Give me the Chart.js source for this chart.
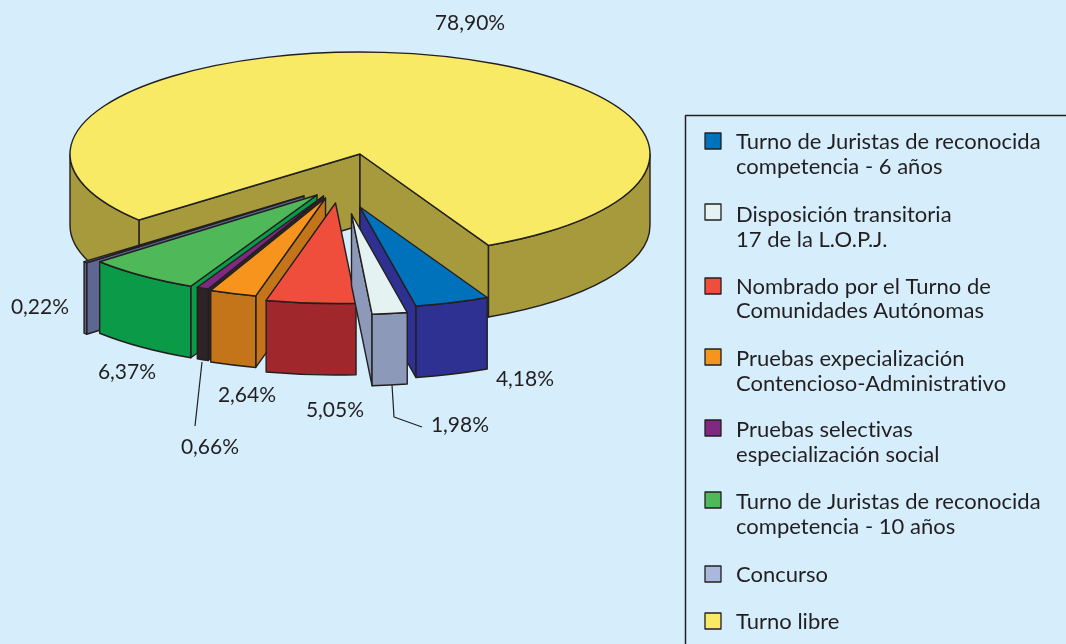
<!DOCTYPE html>
<html>
<head>
<meta charset="utf-8">
<title>Turno de acceso</title>
<script src="https://cdn.jsdelivr.net/npm/chart.js@4"></script>
<style>
  html, body { margin: 0; padding: 0; background: #d6eefc; overflow: hidden; }
  canvas { display: block; }
</style>
</head>
<body>
<canvas id="pie" width="1066" height="644"></canvas>
<script>
const categories = [
  ['Turno de Juristas de reconocida', 'competencia - 6 años'],
  ['Disposición transitoria', '17 de la L.O.P.J.'],
  ['Nombrado por el Turno de', 'Comunidades Autónomas'],
  ['Pruebas expecialización', 'Contencioso-Administrativo'],
  ['Pruebas selectivas', 'especialización social'],
  ['Turno de Juristas de reconocida', 'competencia - 10 años'],
  ['Concurso'],
  ['Turno libre']
];
const values = [4.18, 1.98, 5.05, 2.64, 0.66, 6.37, 0.22, 78.90];
const valueLabels = ['4,18%', '1,98%', '5,05%', '2,64%', '0,66%', '6,37%', '0,22%', '78,90%'];

// colours
const topColors = ['#0072bc', '#e4f2f2', '#f04e3c', '#f7941d', '#7f2a80', '#4fb858', '#6f78ac', '#f8ea64'];
const sideColors = ['#2e3192', '#8d99b8', '#a0282d', '#c4751a', '#2d2226', '#0a9a48', '#5d6791', '#a69a3c'];
const swatchColors = ['#0072bc', '#e4f2f2', '#f04e3c', '#f7941d', '#7f2a80', '#4fb858', '#a9b8dc', '#f8ea64'];
const inkColor = '#231f20';

// how far each slice is pulled out of the pie, in px, and its size against the full pie
const explodeX = [0, -8.5, -24.5, -34.5, -36.5, -43, -56, 0];
const explodeY = [53, 60, 49, 44, 42, 41, 42, 0];
const sliceScale = [0.99, 0.985, 0.985, 0.99, 0.995, 0.995, 0.995, 1];
// back to front
const drawOrder = [7, 6, 5, 4, 3, 2, 0, 1];

const centerY = 154;
const squash = 102 / 290;
const depth = 71.5;

// label placement
const labelX = [525, 460, 335, 247, 210, 127, 40, 470];
const labelY = [379, 425, 410, 395, 447, 372, 307, 23];
const leaders = [
  [[202, 362], [195, 426]],
  [[392, 385], [394, 417], [422, 427]]
];

// legend placement
const legendTextY = [[142, 167], [215, 240], [287, 311], [359, 384], [430, 455], [502, 527], [575], [622]];
const legendSwatchY = [133, 204, 278, 349, 420, 492, 566, 613];

function sidePath(ctx, points) {
  ctx.beginPath();
  points.forEach((p, i) => i ? ctx.lineTo(p[0], p[1]) : ctx.moveTo(p[0], p[1]));
  ctx.closePath();
  ctx.fill();
  ctx.stroke();
}

function drawSlice(ctx, arc, i) {
  const { x, y, startAngle, endAngle, outerRadius } = arc.getProps(['x', 'y', 'startAngle', 'endAngle', 'outerRadius']);
  const r = outerRadius * sliceScale[i];
  const tipX = x + explodeX[i];
  const tipY = centerY + explodeY[i];
  const rimX = a => tipX + r * Math.cos(a);
  const rimY = a => tipY + r * squash * Math.sin(a);

  ctx.fillStyle = sideColors[i];
  ctx.strokeStyle = inkColor;
  ctx.lineWidth = 1.4;
  ctx.lineJoin = 'round';

  // cut faces, only the ones turned towards the viewer
  const cutFace = a => sidePath(ctx, [
    [tipX, tipY], [rimX(a), rimY(a)], [rimX(a), rimY(a) + depth], [tipX, tipY + depth]
  ]);
  if (Math.cos(startAngle) < 0 && Math.sin(startAngle) > 0) cutFace(startAngle);
  if (Math.cos(endAngle) > 0) cutFace(endAngle);

  // outer wall, lower half of the ellipse only
  for (let n = 0; n < 2; n++) {
    const from = Math.max(startAngle, n * 2 * Math.PI);
    const to = Math.min(endAngle, n * 2 * Math.PI + Math.PI);
    if (to <= from) continue;
    ctx.beginPath();
    ctx.ellipse(tipX, tipY, r, r * squash, 0, from, to);
    ctx.ellipse(tipX, tipY + depth, r, r * squash, 0, to, from, true);
    ctx.closePath();
    ctx.fill();
    ctx.stroke();
  }

  // top face, the library's own arc under a squashing transform
  ctx.save();
  ctx.translate(tipX, tipY);
  ctx.scale(sliceScale[i], squash * sliceScale[i]);
  ctx.translate(-x, -y);
  arc.draw(ctx);
  ctx.restore();

  ctx.beginPath();
  ctx.moveTo(tipX, tipY);
  ctx.ellipse(tipX, tipY, r, r * squash, 0, startAngle, endAngle);
  ctx.closePath();
  ctx.stroke();
}

const pie3d = {
  id: 'pie3d',
  beforeDatasetDraw(chart) {
    const ctx = chart.ctx;
    const arcs = chart.getDatasetMeta(0).data;
    drawOrder.forEach(i => drawSlice(ctx, arcs[i], i));
    return false;
  },
  afterDraw(chart) {
    const ctx = chart.ctx;
    ctx.save();
    ctx.fillStyle = inkColor;
    ctx.strokeStyle = inkColor;
    ctx.letterSpacing = '0.01px'; // keeps Lato from joining "ti"

    // value labels
    ctx.font = '21px Lato';
    ctx.textAlign = 'center';
    ctx.textBaseline = 'middle';
    valueLabels.forEach((t, i) => ctx.fillText(t, labelX[i], labelY[i]));

    ctx.lineWidth = 1.2;
    leaders.forEach(line => {
      ctx.beginPath();
      line.forEach((p, i) => i ? ctx.lineTo(p[0], p[1]) : ctx.moveTo(p[0], p[1]));
      ctx.stroke();
    });

    // legend box runs off the page on the right and at the bottom
    ctx.lineWidth = 1.5;
    ctx.beginPath();
    ctx.moveTo(685.5, 644);
    ctx.lineTo(685.5, 115.5);
    ctx.lineTo(1066, 115.5);
    ctx.stroke();

    ctx.textAlign = 'left';
    ctx.font = '22px Lato';
    categories.forEach((lines, i) => {
      ctx.fillStyle = swatchColors[i];
      ctx.fillRect(705, legendSwatchY[i], 16, 16);
      ctx.lineWidth = 1.3;
      ctx.strokeRect(705, legendSwatchY[i], 16, 16);
      ctx.fillStyle = inkColor;
      lines.forEach((t, j) => ctx.fillText(t, 736, legendTextY[i][j]));
    });
    ctx.restore();
  }
};

new Chart(document.getElementById('pie').getContext('2d'), {
  type: 'pie',
  data: {
    labels: categories.map(c => c.join(' ')),
    datasets: [{
      data: values,
      backgroundColor: topColors,
      borderWidth: 0
    }]
  },
  options: {
    responsive: false,
    animation: false,
    rotation: 153.7,
    layout: { padding: { left: 70, right: 416, top: 0, bottom: 0 } },
    plugins: {
      legend: { display: false },
      tooltip: { enabled: false }
    }
  },
  plugins: [pie3d]
});
</script>
</body>
</html>
